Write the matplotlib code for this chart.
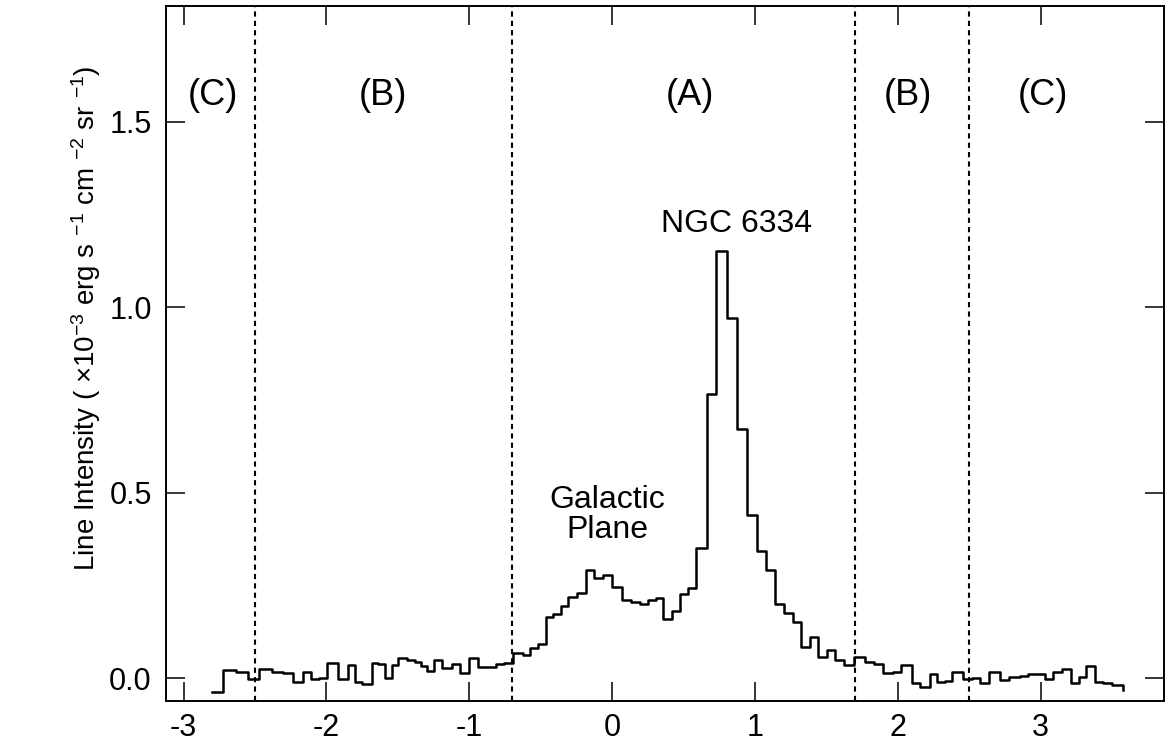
import numpy as np
import matplotlib.pyplot as plt

plt.rcParams['font.family'] = ['Liberation Sans', 'DejaVu Sans']
plt.rcParams['mathtext.default'] = 'regular'
plt.rcParams['axes.unicode_minus'] = False

# bin left edges (deg) and line intensity (1e-3 erg/s/cm2/sr); last point closes the histogram
lat = [-2.803, -2.722, -2.631, -2.547, -2.470, -2.383, -2.302, -2.232, -2.162, -2.107,
       -2.052, -1.996, -1.922, -1.852, -1.801, -1.754, -1.684, -1.638, -1.591, -1.544,
       -1.498, -1.439, -1.381, -1.339, -1.299, -1.246, -1.190, -1.124, -1.066, -1.003,
       -0.938, -0.879, -0.814, -0.756, -0.697, -0.623, -0.576, -0.522, -0.464, -0.413,
       -0.359, -0.308, -0.245, -0.186, -0.126, -0.063, 0.000, 0.066, 0.131, 0.194,
       0.252, 0.306, 0.357, 0.416, 0.474, 0.528, 0.584, 0.661, 0.724, 0.801,
       0.871, 0.941, 1.015, 1.080, 1.143, 1.204, 1.267, 1.325, 1.383, 1.442,
       1.507, 1.563, 1.624, 1.691, 1.768, 1.831, 1.896, 1.966, 2.025, 2.095,
       2.153, 2.223, 2.274, 2.328, 2.375, 2.456, 2.515, 2.573, 2.640, 2.713,
       2.776, 2.853, 2.911, 2.970, 3.028, 3.086, 3.150, 3.210, 3.267, 3.315,
       3.376, 3.436, 3.497, 3.576]
intensity = [-0.038, 0.022, 0.017, -0.002, 0.025, 0.017, 0.015, -0.011, 0.018, -0.002,
             0.001, 0.040, -0.002, 0.036, -0.009, -0.015, 0.042, 0.039, 0.002, 0.036,
             0.054, 0.049, 0.045, 0.033, 0.020, 0.049, 0.027, 0.038, 0.013, 0.054,
             0.031, 0.029, 0.038, 0.040, 0.069, 0.063, 0.081, 0.092, 0.164, 0.173,
             0.195, 0.218, 0.229, 0.292, 0.270, 0.278, 0.247, 0.211, 0.206, 0.199,
             0.212, 0.215, 0.159, 0.182, 0.226, 0.242, 0.350, 0.766, 1.153, 0.970,
             0.672, 0.440, 0.344, 0.292, 0.199, 0.175, 0.151, 0.085, 0.111, 0.057,
             0.076, 0.049, 0.036, 0.056, 0.044, 0.038, 0.013, 0.016, 0.037, -0.012,
             -0.024, 0.012, -0.011, -0.008, 0.016, -0.002, 0.002, -0.013, 0.016, -0.006,
             0.003, 0.007, 0.011, 0.012, -0.002, 0.016, 0.025, -0.013, 0.003, 0.034,
             -0.009, -0.014, -0.019, -0.032]

# region boundaries and labels
boundaries = [-2.5, -0.7, 1.7, 2.5]
region_names = ['(C)', '(B)', '(A)', '(B)', '(C)']
region_x = [-2.794, -1.605, 0.544, 2.069, 3.014]

fig = plt.figure(figsize=(11.7, 7.53), dpi=100)
ax = fig.add_axes([0.1416, 0.0695, 0.8530, 0.9225])

ax.step(lat, intensity, where='post', color='black', lw=1.8)

for b in boundaries:
    ax.axvline(b, color='black', lw=1.5, ls=(0, (2.5, 2.0)))

for name, x in zip(region_names, region_x):
    ax.text(x, 1.57, name, ha='center', va='center', fontsize=26)

ax.text(0.873, 1.225, 'NGC 6334', ha='center', va='center', fontsize=23)
ax.text(-0.037, 0.44, 'Galactic\nPlane', ha='center', va='center', fontsize=23,
        linespacing=1.02)

ax.set_xlim(-3.125, 3.86)
ax.set_ylim(-0.0604, 1.812)
ax.set_xticks([-3, -2, -1, 0, 1, 2, 3])
ax.set_yticks([0.0, 0.5, 1.0, 1.5])
ax.set_yticklabels(['0.0', '0.5', '1.0', '1.5'])
ax.tick_params(direction='in', length=13.5, width=1.1, labelsize=22,
               top=True, right=True)
ax.tick_params(axis='x', pad=9)
ax.tick_params(axis='y', pad=10)
for s in ax.spines.values():
    s.set_linewidth(1.4)

ax.set_ylabel('Line Intensity ( \u00d710$^{-3}$ erg s $^{-1}$ cm $^{-2}$ sr $^{-1}$)',
              fontsize=20)
ax.yaxis.set_label_coords(-0.063, 0.55)

fig.savefig('out.png', dpi=100)
